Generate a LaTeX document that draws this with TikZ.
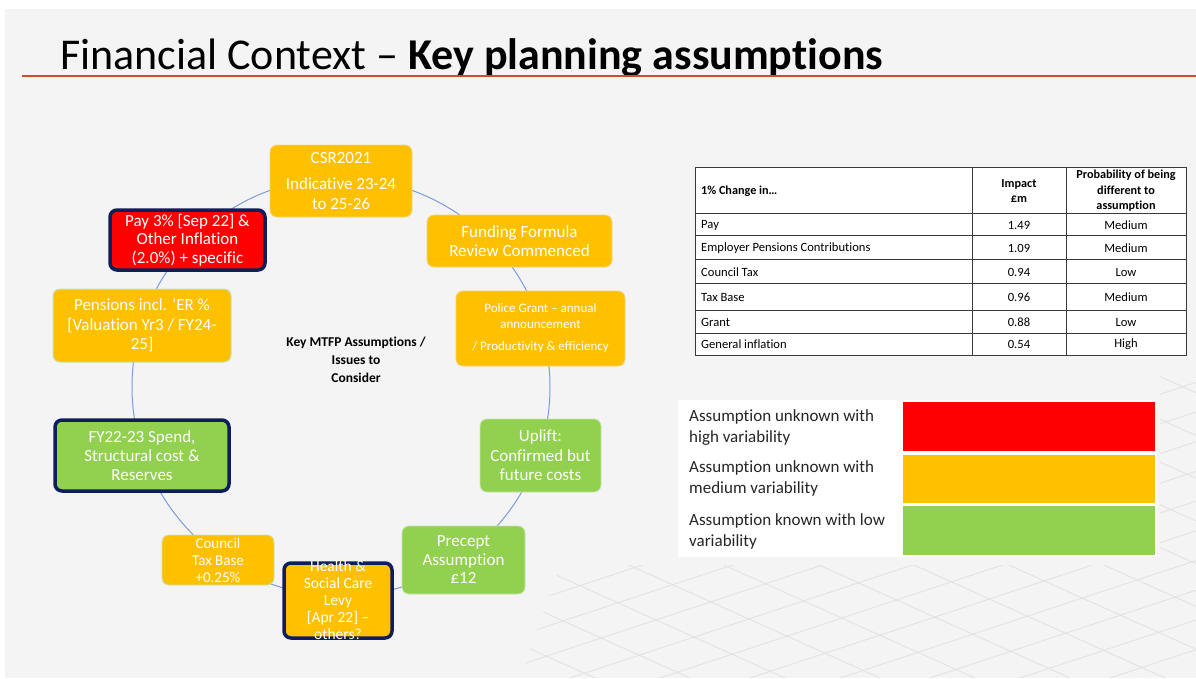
\documentclass[tikz,border=0pt]{standalone}
\usepackage{fontspec}
\setmainfont{Carlito}[RawFeature={-liga;-clig;-calt;-dlig;-rlig}]
\definecolor{bg}{HTML}{F4F4F4}
\definecolor{myorange}{HTML}{FFC000}
\definecolor{mygreen}{HTML}{92D050}
\definecolor{myred}{HTML}{FF0000}
\definecolor{navy}{HTML}{0E1E5B}
\definecolor{ringc}{HTML}{7B9CD6}
\definecolor{titleline}{HTML}{D24C2A}
\definecolor{gridc}{HTML}{E2E2E2}
\definecolor{orgedge}{HTML}{F6D27C}
\definecolor{grnedge}{HTML}{C5E3AE}
\definecolor{tline}{HTML}{3A3A3A}
\definecolor{txt}{HTML}{262626}
\tikzset{
  box/.style={rounded corners=7pt, align=center, text=white, inner sep=0pt},
  org/.style={box, fill=myorange, draw=orgedge, line width=0.8pt},
  grn/.style={box, fill=mygreen, draw=grnedge, line width=0.8pt},
  keybox/.style={line width=3.5pt, draw=navy},
  ring/.style={draw=ringc, line width=1pt},
  celltxt/.style={inner sep=0pt, text=black, font=\fontsize{12.6}{15}\selectfont},
  headtxt/.style={inner sep=0pt, text=black, align=center, font=\fontsize{12.2}{15.5}\selectfont\bfseries},
  legtxt/.style={inner sep=0pt, anchor=west, align=left, text=txt, font=\fontsize{17}{21}\selectfont},
  f17/.style={font=\fontsize{17}{19.5}\selectfont}
}
\begin{document}
\begin{tikzpicture}[x=1pt,y=-1pt]
\useasboundingbox (0,0) rectangle (1196,678);
\fill[white] (0,0) rectangle (1196,678);
\fill[bg] (5,9) rectangle (1196,678);
% faint perspective grid
\begin{scope}
\clip (520,678) -- (560,565) -- (1160,565) -- (1160,360) -- (1196,360) -- (1196,678) -- cycle;
\foreach \a in {300,390,...,1700} \draw[gridc, line width=0.9pt] (\a,678) -- ++(1000,-330);
\foreach \b in {500,595,...,2200} \draw[gridc, line width=0.9pt] (\b,678) -- ++(-1000,-450);
\end{scope}
% title
\node[anchor=base west, inner sep=0pt, font=\fontsize{44}{50}\selectfont] (title) at (60,69) {Financial Context – \textbf{Key planning assumptions}};
\coordinate (tl0) at (22,76);
\coordinate (tl1) at (1196,76);
\draw[titleline, line width=2pt] (tl0) -- (tl1);
% cycle ring
\coordinate (ctr) at (341,387);
\draw[ring] (ctr) circle[radius=209];
% nodes
\node[org, f17, minimum width=142, minimum height=72] (csr) at (341,181) {CSR2021\\[6.5pt]Indicative 23-24\\to 25-26};
\node[org, f17, minimum width=185, minimum height=52, font=\fontsize{17}{19}\selectfont] (fund) at (519.5,241) {Funding Formula\\Review Commenced};
\node[org, minimum width=169, minimum height=75, font=\fontsize{13}{16}\selectfont] (police) at (540.5,328.5) {Police Grant – annual\\announcement\\[6pt]/ Productivity \& efficiency};
\node[grn, f17, minimum width=121, minimum height=73] (uplift) at (540.5,455.5) {Uplift:\\Confirmed but\\future costs};
\node[grn, f17, minimum width=123, minimum height=68, font=\fontsize{17}{18.5}\selectfont] (precept) at (463.5,560) {Precept\\Assumption\\£12};
\node[org, keybox, minimum width=108, minimum height=75] (health) at (338,600.5) {};
\node[inner sep=0pt, align=center, text=white, font=\fontsize{15.5}{17}\selectfont] (healthtxt) at (338,600) {Health \&\\Social Care\\Levy\\{[Apr 22]} –\\others?};
\node[org, draw=grnedge, minimum width=112, minimum height=50, font=\fontsize{15}{17}\selectfont] (council) at (218,560) {Council\\Tax Base\\+0.25\%};
\node[grn, keybox, f17, minimum width=174, minimum height=71, font=\fontsize{17}{19}\selectfont] (fy) at (142,455.5) {FY22-23 Spend,\\Structural cost \&\\Reserves};
\node[org, draw=grnedge, line width=1pt, f17, minimum width=178, minimum height=73] (pens) at (142,325.5) {Pensions incl. ‘ER \%\\{[Valuation Yr3 / FY24-}\\25]};
\node[box, fill=myred, keybox, minimum width=155, minimum height=60, font=\fontsize{17}{18.5}\selectfont] (pay) at (187.5,240) {Pay 3\% [Sep 22] \&\\Other Inflation\\(2.0\%) + specific};
\node[inner sep=0pt, align=center, font=\fontsize{13.5}{18}\selectfont\bfseries] (centre) at (356,360) {Key MTFP Assumptions /\\Issues to\\Consider};
% table
\fill[white] (695,167) rectangle (1186,355);
\draw[tline, line width=0.8pt] (695,167) rectangle (1186,355);
\foreach \y in {213,235,259,283,310,333} \draw[tline, line width=0.8pt] (695,\y) -- (1186,\y);
\foreach \x in {972,1066} \draw[tline, line width=0.8pt] (\x,167) -- (\x,355);
\node[headtxt, anchor=west] (h1) at (701,191) {1\% Change in…};
\node[headtxt] (h2) at (1019,191) {Impact\\£m};
\node[headtxt] (h3) at (1126,191) {Probability of being\\different to\\assumption};
\node[celltxt, anchor=west] (r1a) at (701,225) {Pay};
\node[celltxt] (r1b) at (1019,225) {1.49};
\node[celltxt] (r1c) at (1126,225) {Medium};
\node[celltxt, anchor=west] (r2a) at (701,248) {Employer Pensions Contributions};
\node[celltxt] (r2b) at (1019,248) {1.09};
\node[celltxt] (r2c) at (1126,248) {Medium};
\node[celltxt, anchor=west] (r3a) at (701,272) {Council Tax};
\node[celltxt] (r3b) at (1019,272) {0.94};
\node[celltxt] (r3c) at (1126,272) {Low};
\node[celltxt, anchor=west] (r4a) at (701,297) {Tax Base};
\node[celltxt] (r4b) at (1019,297) {0.96};
\node[celltxt] (r4c) at (1126,297) {Medium};
\node[celltxt, anchor=west] (r5a) at (701,322) {Grant};
\node[celltxt] (r5b) at (1019,322) {0.88};
\node[celltxt] (r5c) at (1126,322) {Low};
\node[celltxt, anchor=west] (r6a) at (701,344) {General inflation};
\node[celltxt] (r6b) at (1019,344) {0.54};
\node[celltxt] (r6c) at (1126,344) {High};
% legend
\fill[white] (678,400) rectangle (1157,557);
\fill[myred] (903,402) rectangle (1155,451);
\fill[myorange] (903,455) rectangle (1155,503);
\fill[mygreen] (903,506) rectangle (1155,555);
\node[legtxt] (l1) at (689,427.5) {Assumption unknown with\\high variability};
\node[legtxt] (l2) at (689,478.5) {Assumption unknown with\\medium variability};
\node[legtxt] (l3) at (689,531) {Assumption known with low\\variability};
\end{tikzpicture}
\end{document}
